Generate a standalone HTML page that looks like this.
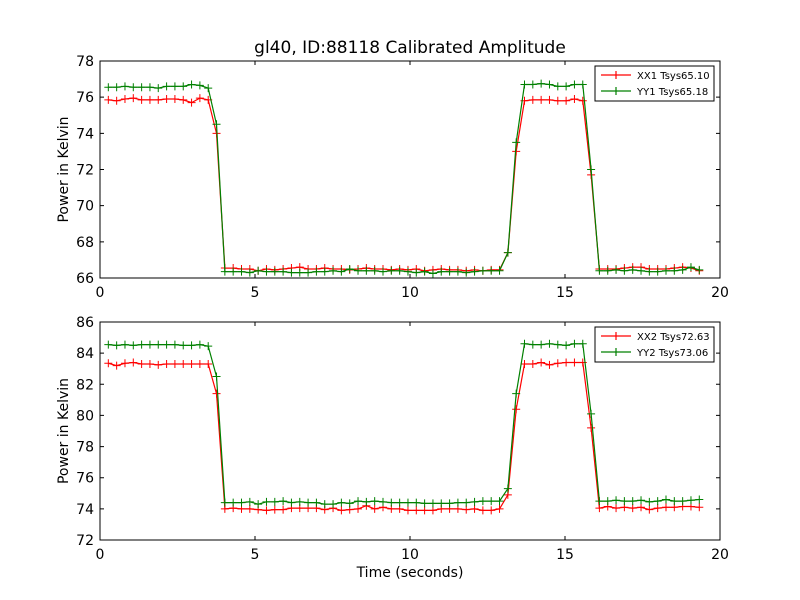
<!DOCTYPE html>
<html><head><meta charset="utf-8"><style>
body{margin:0;background:#fff;}
svg{display:block;font-family:"DejaVu Sans","Liberation Sans",sans-serif;}
</style></head><body>
<svg id="fig" width="800" height="600" viewBox="0 0 800 600">
<rect width="800" height="600" fill="#fff"/>
<text x="410" y="53" font-size="17" text-anchor="middle">gl40, ID:88118 Calibrated Amplitude</text>
<g id="p1"></g>
<g id="p2"></g>
<text x="410" y="577" font-size="14" text-anchor="middle">Time (seconds)</text>
</svg>
<script>
const dt = 0.2685;
const xx1 = [75.85,75.8,75.9,75.95,75.85,75.85,75.85,75.9,75.9,75.85,75.7,75.95,75.85,74.0,
66.55,66.55,66.5,66.5,66.4,66.5,66.45,66.5,66.55,66.6,66.5,66.5,66.55,66.5,66.5,66.45,66.5,66.55,66.5,66.5,66.45,66.5,66.45,66.5,66.4,66.45,66.5,66.45,66.45,66.4,66.45,66.4,66.45,66.45,
67.4,73.0,75.8,75.85,75.85,75.85,75.8,75.8,75.9,75.8,71.7,
66.5,66.5,66.5,66.55,66.6,66.6,66.5,66.5,66.5,66.55,66.6,66.55,66.4];
const yy1 = [76.55,76.55,76.6,76.55,76.55,76.55,76.5,76.6,76.6,76.6,76.7,76.65,76.5,74.5,
66.35,66.35,66.35,66.3,66.4,66.35,66.35,66.35,66.3,66.3,66.3,66.35,66.35,66.4,66.35,66.5,66.4,66.4,66.4,66.35,66.4,66.4,66.35,66.3,66.35,66.25,66.35,66.35,66.35,66.3,66.35,66.4,66.4,66.4,
67.4,73.5,76.7,76.7,76.75,76.7,76.6,76.6,76.7,76.7,72.0,
66.4,66.4,66.45,66.4,66.45,66.4,66.35,66.35,66.4,66.4,66.45,66.6,66.45];
const xx2 = [83.35,83.2,83.35,83.4,83.3,83.3,83.25,83.3,83.3,83.3,83.3,83.3,83.3,81.4,
74.0,74.05,74.0,74.0,73.95,73.9,73.95,73.95,74.05,74.05,74.05,74.05,73.95,74.05,73.9,73.95,74.0,74.2,74.0,74.1,74.0,74.0,73.9,73.9,73.9,73.9,74.0,74.0,74.0,73.95,74.0,73.9,73.9,74.0,
74.9,80.4,83.3,83.3,83.4,83.25,83.35,83.4,83.4,83.4,79.2,
74.05,74.15,74.05,74.1,74.05,74.1,73.95,74.05,74.1,74.1,74.15,74.15,74.1];
const yy2 = [84.55,84.5,84.55,84.5,84.55,84.55,84.55,84.55,84.55,84.5,84.5,84.55,84.45,82.5,
74.4,74.4,74.4,74.45,74.3,74.45,74.45,74.5,74.4,74.45,74.4,74.4,74.3,74.3,74.4,74.35,74.5,74.45,74.5,74.45,74.4,74.4,74.4,74.4,74.35,74.35,74.35,74.35,74.4,74.4,74.45,74.5,74.5,74.5,
75.3,81.4,84.6,84.55,84.55,84.6,84.55,84.5,84.6,84.6,80.1,
74.5,74.5,74.55,74.5,74.5,74.55,74.45,74.5,74.6,74.5,74.5,74.55,74.6];
const xTicks = [0,5,10,15,20];
const yTicks1 = [66,68,70,72,74,76,78];
const yTicks2 = [72,74,76,78,80,82,84,86];
const legend1 = ["XX1 Tsys65.10","YY1 Tsys65.18"];
const legend2 = ["XX2 Tsys72.63","YY2 Tsys73.06"];

const NS="http://www.w3.org/2000/svg";
function mk(parent,tag,attrs){const e=document.createElementNS(NS,tag);for(const k in attrs)e.setAttribute(k,attrs[k]);parent.appendChild(e);return e;}

function panel(g,name,top,bottom,ymin,ymax,yTicks,series,labels){
  const L=100,R=720;
  const sx=v=>L+(v-0)/(20-0)*(R-L);
  const sy=v=>bottom-(v-ymin)/(ymax-ymin)*(bottom-top);
  const colors=["#ff0000","#008000"];
  series.forEach((data,si)=>{
    let d="";
    data.forEach((v,i)=>{const x=sx((i+1)*dt),y=sy(v);d+=(i?"L":"M")+x.toFixed(1)+" "+y.toFixed(1);});
    const p=mk(g,"path",{d:d,fill:"none",stroke:colors[si],"stroke-width":1.2});
    
    
    data.forEach((v,i)=>{const x=sx((i+1)*dt),y=sy(v);
      const m=mk(g,"path",{d:`M${x-4} ${y}H${x+4}M${x} ${y-4}V${y+4}`,stroke:colors[si],"stroke-width":1});
      
      
    });
  });
  const fr=mk(g,"rect",{x:L,y:top,width:R-L,height:bottom-top,fill:"none",stroke:"#000","stroke-width":1});
  
  
  xTicks.forEach(t=>{const x=sx(t);
    mk(g,"path",{d:`M${x} ${bottom}v-4M${x} ${top}v4`,stroke:"#000"});
    const tx=mk(g,"text",{x:x,y:bottom+19,"font-size":14,"text-anchor":"middle"});tx.textContent=t;
    
    
  });
  yTicks.forEach(t=>{const y=sy(t);
    mk(g,"path",{d:`M${L} ${y}h4M${R} ${y}h-4`,stroke:"#000"});
    const tx=mk(g,"text",{x:L-6,y:y+5,"font-size":14,"text-anchor":"end"});tx.textContent=t;
    
    
  });
  const yl=mk(g,"text",{x:0,y:0,"font-size":14,"text-anchor":"middle",transform:`translate(68 ${(top+bottom)/2}) rotate(-90)`});
  yl.textContent="Power in Kelvin";
  
  
  const lg=mk(g,"g",{});
  
  
  mk(lg,"rect",{x:595,y:top+5,width:119,height:35,fill:"#fff",stroke:"#000","stroke-width":1});
  labels.forEach((lab,i)=>{const y=top+14+i*16;
    const e=mk(lg,"path",{d:`M601 ${y}h30M616 ${y-4}v8`,stroke:colors[i],"stroke-width":1.2});
    
    
    const t=mk(lg,"text",{x:637,y:y+4,"font-size":10});t.textContent=lab;
    
    
  });
}
panel(document.getElementById('p1'),'top',61,278,66,78,yTicks1,[xx1,yy1],legend1);
panel(document.getElementById('p2'),'bottom',322,540,72,86,yTicks2,[xx2,yy2],legend2);
</script>
</body></html>
